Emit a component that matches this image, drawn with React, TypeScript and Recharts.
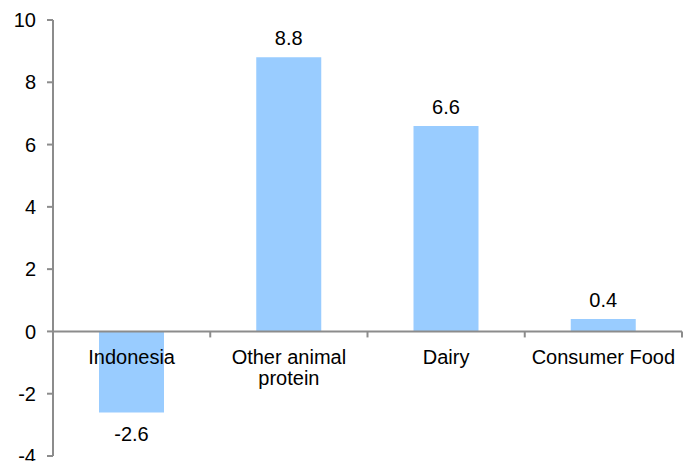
import React from 'react';
import { BarChart, Bar, XAxis, YAxis, ReferenceLine, LabelList } from 'recharts';

const categories = ['Indonesia', 'Other animal protein', 'Dairy', 'Consumer Food'];
const categoryLines = [['Indonesia'], ['Other animal', 'protein'], ['Dairy'], ['Consumer Food']];
const growth = [-2.6, 8.8, 6.6, 0.4];
const yTicks = [-4, -2, 0, 2, 4, 6, 8, 10];

const data = categories.map((name, i) => ({ name, value: growth[i] }));

const WIDTH = 689;
const HEIGHT = 461;
const MARGIN = { top: 20, right: 7, bottom: 4, left: 0 };
const Y_AXIS_WIDTH = 53;
const X_AXIS_HEIGHT = 1;
const Y_MIN = -4;
const Y_MAX = 10;
const PLOT_HEIGHT = HEIGHT - MARGIN.top - MARGIN.bottom - X_AXIS_HEIGHT;
const PLOT_WIDTH = WIDTH - MARGIN.left - MARGIN.right - Y_AXIS_WIDTH;
const BAND = PLOT_WIDTH / categories.length;

const AXIS = '#8c8c8c';
const FONT = '"Liberation Sans", Arial, sans-serif';
const FONT_SIZE = 20;

// category names sit just under the zero line, with a tick mark at each band's right edge
function CategoryTick(props: any) {
  const { x, y, payload } = props;
  const zeroY = y - (PLOT_HEIGHT * (0 - Y_MIN)) / (Y_MAX - Y_MIN);
  const lines = categoryLines[payload.index] || [payload.value];
  const edge = x + BAND / 2;
  return (
    <g>
      <line x1={edge} x2={edge} y1={zeroY} y2={zeroY + 6} stroke={AXIS} strokeWidth={2} />
      <text x={x} y={zeroY + 33} textAnchor="middle" fill="#000" fontSize={FONT_SIZE} fontFamily={FONT}>
        {lines.map((line, i) => (
          <tspan key={i} x={x} dy={i === 0 ? 0 : 21}>
            {line}
          </tspan>
        ))}
      </text>
    </g>
  );
}

function ValueLabel(props: any) {
  const { x, y, width, height, value } = props;
  const top = Math.min(y, y + height);
  const bottom = Math.max(y, y + height);
  const ty = value >= 0 ? top - 12 : bottom + 29;
  return (
    <text x={x + width / 2} y={ty} textAnchor="middle" fill="#000" fontSize={FONT_SIZE} fontFamily={FONT}>
      {value.toFixed(1)}
    </text>
  );
}

export default function App() {
  return (
    <div style={{ position: 'absolute', left: 0, top: 0, width: WIDTH, height: HEIGHT, background: '#fff' }}>
      <BarChart width={WIDTH} height={HEIGHT} data={data} margin={MARGIN}>
        <XAxis
          dataKey="name"
          height={X_AXIS_HEIGHT}
          axisLine={false}
          tickLine={false}
          tickSize={0}
          tickMargin={0}
          interval={0}
          tick={<CategoryTick />}
        />
        <YAxis
          width={Y_AXIS_WIDTH}
          domain={[Y_MIN, Y_MAX]}
          ticks={yTicks}
          interval={0}
          tickSize={6}
          tickMargin={11}
          axisLine={{ stroke: AXIS, strokeWidth: 2 }}
          tickLine={{ stroke: AXIS, strokeWidth: 2 }}
          tick={{ fill: '#000', fontSize: FONT_SIZE, fontFamily: FONT }}
        />
        <Bar dataKey="value" fill="#99ccff" barSize={65} isAnimationActive={false}>
          <LabelList dataKey="value" content={<ValueLabel />} />
        </Bar>
        <ReferenceLine y={0} stroke={AXIS} strokeWidth={2} />
      </BarChart>
    </div>
  );
}
